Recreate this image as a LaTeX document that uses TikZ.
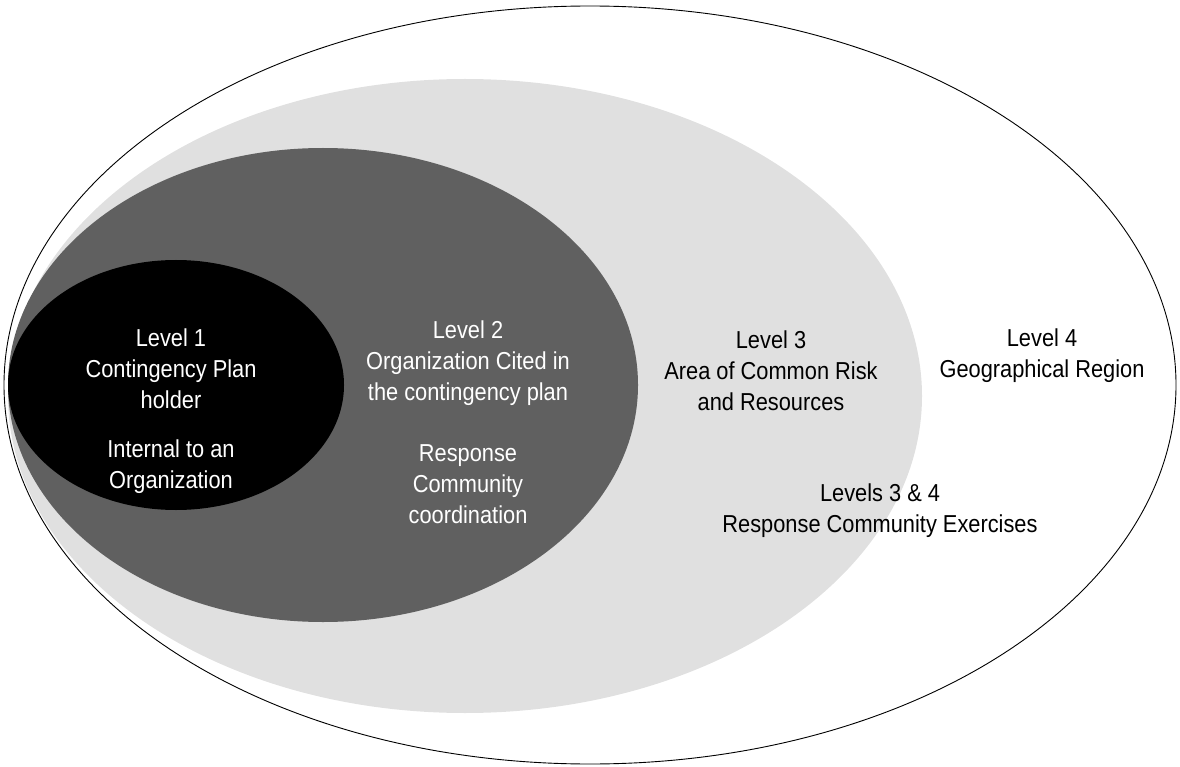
\documentclass[tikz,border=0pt]{standalone}
\usepackage{fontspec}
\setmainfont{Liberation Sans}[FakeStretch=0.89]
\definecolor{ringlight}{RGB}{224,224,224}
\definecolor{ringdark}{RGB}{96,96,96}
\begin{document}
\begin{tikzpicture}[x=1pt,y=-1pt,
  lbl/.style={align=center, font=\fontsize{24.5}{31}\selectfont, inner sep=0pt}]
\useasboundingbox (0,0) rectangle (1180,767);
\draw[line width=0.9pt] (590,385) ellipse [x radius=586pt, y radius=379pt];
\fill[ringlight] (465,396) ellipse [x radius=457pt, y radius=317pt];
\fill[ringdark] (323,385) ellipse [x radius=315pt, y radius=237pt];
\fill[black] (176,385) ellipse [x radius=168pt, y radius=125pt];
\node[lbl, text=white] (l1) at (171,411) {Level 1\\Contingency Plan\\holder\\[18pt]Internal to an\\Organization};
\node[lbl, text=white] (l2) at (468,422.5) {Level 2\\Organization Cited in\\the contingency plan\\[30pt]Response\\Community\\coordination};
\node[lbl] (l3) at (771,371) {Level 3\\Area of Common Risk\\and Resources};
\node[lbl] (l4) at (1042,356) {Level 4\\Geographical Region};
\node[lbl] (l34) at (880,511) {Levels 3 \& 4\\Response Community Exercises};
\end{tikzpicture}
\end{document}
